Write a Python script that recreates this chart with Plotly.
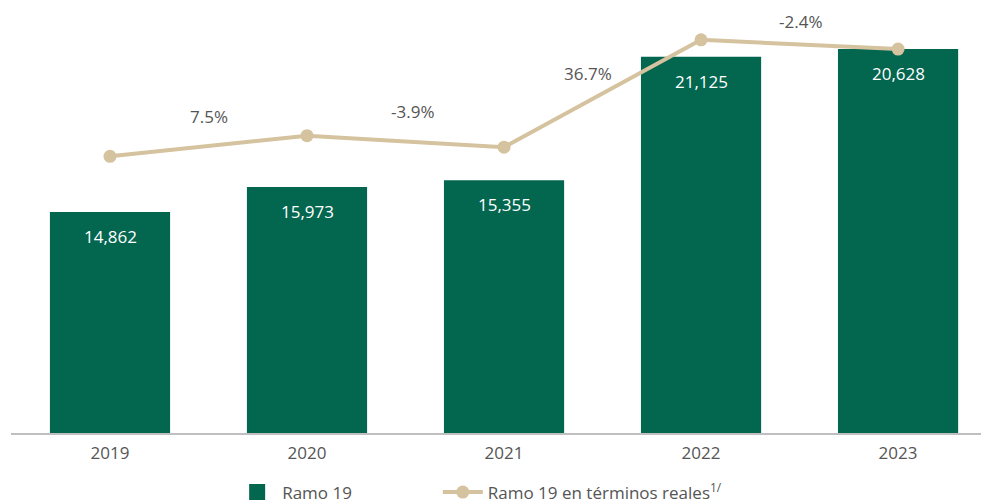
import plotly.graph_objects as go

years = ["2019", "2020", "2021", "2022", "2023"]
nominal = [11870, 13210, 13580, 20210, 20628]          # Ramo 19 (bars)
real = [14862, 15973, 15355, 21125, 20628]             # Ramo 19 en términos reales (line)
real_labels = ["14,862", "15,973", "15,355", "21,125", "20,628"]
growth_labels = ["7.5%", "-3.9%", "36.7%", "-2.4%"]

GREEN = "#03664F"
BEIGE = "#D5C29E"
GRAY = "#555555"
FONT = "Open Sans"

fig = go.Figure()
fig.add_trace(go.Bar(
    x=years, y=nominal, name="Ramo 19", marker=dict(color=GREEN, line=dict(width=0)),
    width=0.61, hoverinfo="skip", showlegend=False,
))
# legend-only square symbol for the bars
fig.add_trace(go.Scatter(
    x=[None], y=[None], name="Ramo 19", mode="markers",
    marker=dict(color=GREEN, symbol="square", size=16), hoverinfo="skip",
    legend="legend",
))
fig.add_trace(go.Scatter(
    x=years, y=real, name="Ramo 19 en términos reales<sup>1/</sup>",
    mode="lines+markers", line=dict(color=BEIGE, width=4),
    marker=dict(color=BEIGE, size=13), hoverinfo="skip",
    legend="legend2",
))

annotations = []
for i, (v, lab) in enumerate(zip(nominal, real_labels)):
    annotations.append(dict(
        x=i, y=v, xref="x", yref="y", text=lab, showarrow=False,
        yanchor="middle", yshift=-24.5, font=dict(color="white", size=17, family=FONT),
    ))

g_shifts = [(0, 30), (7, 30), (-15, 19.5), (1, 22.5)]
for i, lab in enumerate(growth_labels):
    xs, ys = g_shifts[i]
    annotations.append(dict(
        x=i + 0.5, y=(real[i] + real[i + 1]) / 2, xref="x", yref="y", text=lab,
        showarrow=False, yanchor="middle", xshift=xs, yshift=ys,
        font=dict(color=GRAY, size=17, family=FONT),
    ))

legend_common = dict(orientation="h", xanchor="left", y=-0.096, yanchor="top",
                     font=dict(size=17, color=GRAY, family=FONT), itemwidth=40,
                     bgcolor="rgba(0,0,0,0)")

fig.update_layout(
    width=981, height=511,
    margin=dict(l=11, r=0, t=0, b=68),
    plot_bgcolor="white", paper_bgcolor="white",
    font=dict(family=FONT, color=GRAY, size=17),
    showlegend=True,
    legend=dict(x=0.228, **legend_common),
    legend2=dict(x=0.440, **legend_common),
    annotations=annotations,
)
fig.update_xaxes(
    type="category", range=[-0.5025, 4.421], showgrid=False, zeroline=False,
    showline=True, linecolor="#BFBFBF", linewidth=2, ticks="", ticklabelstandoff=4,
    tickfont=dict(size=17, color=GRAY, family=FONT),
)
fig.update_yaxes(range=[0, 23262], showgrid=False, zeroline=False, showticklabels=False,
                 showline=False)

fig.write_html("out.html", config={"displayModeBar": False},
               post_script="document.body.style.margin='0';")
